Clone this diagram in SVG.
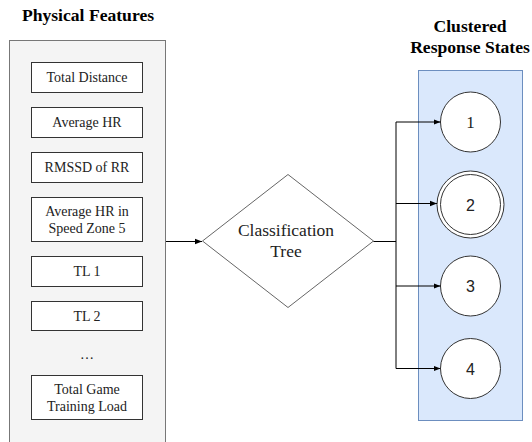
<svg xmlns="http://www.w3.org/2000/svg" width="532" height="442" viewBox="0 0 532 442">
<style>
.title{font-family:"Liberation Serif","Times New Roman",Tinos,"DejaVu Serif",serif;font-weight:bold;font-size:17.6px;fill:#000;text-anchor:middle}
.feat rect{fill:#fff;stroke:#333;stroke-width:1}
.lbl{font-family:"Liberation Serif","Times New Roman",Tinos,"DejaVu Serif",serif;font-size:14px;fill:#222;text-anchor:middle}
.ser{font-family:"Liberation Serif","Times New Roman",Tinos,"DejaVu Serif",serif;fill:#222;text-anchor:middle}
.st{fill:#fff;stroke:#333;stroke-width:1}
.num{font-family:"Liberation Sans",Arial,sans-serif;font-size:16px;fill:#222;text-anchor:middle}
.conn{fill:none;stroke:#000;stroke-width:1}
</style>
<defs>
<marker id="arr" viewBox="0 0 10 10" refX="10" refY="5" markerWidth="7" markerHeight="7" markerUnits="userSpaceOnUse" orient="auto">
<path d="M0,1 L10,5 L0,9 Z" fill="#000"/>
</marker>
</defs>
<rect width="532" height="442" fill="#fff"/>

<g id="features-panel">
<rect x="9.5" y="40.5" width="156" height="410" fill="#f4f4f4" stroke="#777"/>
<text class="title" x="88" y="21">Physical Features</text>
</g>

<g id="total-distance" class="feat"><rect x="31.5" y="62.5" width="111" height="30"/><text class="lbl" x="87" y="82">Total Distance</text></g>
<g id="average-hr" class="feat"><rect x="31.5" y="107.5" width="111" height="30"/><text class="lbl" x="87" y="127">Average HR</text></g>
<g id="rmssd" class="feat"><rect x="31.5" y="152.5" width="111" height="30"/><text class="lbl" x="87" y="172">RMSSD of RR</text></g>
<g id="avg-hr-zone5" class="feat"><rect x="31.5" y="197.5" width="111" height="44"/><text class="lbl" x="87" y="216">Average HR in</text><text class="lbl" x="87" y="233">Speed Zone 5</text></g>
<g id="tl1" class="feat"><rect x="31.5" y="256.5" width="111" height="30"/><text class="lbl" x="87" y="276">TL 1</text></g>
<g id="tl2" class="feat"><rect x="31.5" y="301.5" width="111" height="29"/><text class="lbl" x="87" y="321">TL 2</text></g>
<g id="ellipsis"><text class="lbl" x="87" y="359">…</text></g>
<g id="total-game-tl" class="feat"><rect x="31.5" y="375.5" width="111" height="44"/><text class="lbl" x="87" y="394">Total Game</text><text class="lbl" x="87" y="411">Training Load</text></g>

<g id="classification-tree">
<polygon points="288,174.5 373.5,241 288,307.5 202.5,241" fill="#fff" stroke="#666"/>
<text class="ser" x="286" y="236" font-size="17.5">Classification</text>
<text class="ser" x="286" y="257" font-size="17.5">Tree</text>
</g>

<g id="states-panel">
<rect x="418.5" y="70.5" width="104" height="350" fill="#dae8fc" stroke="#6c8ebf"/>
<text class="title" x="470" y="32">Clustered</text>
<text class="title" x="470" y="53">Response States</text>
</g>

<g id="state-1"><circle class="st" cx="470.5" cy="122" r="30"/><text class="ser" x="470.5" y="128" font-size="17">1</text></g>
<g id="state-2"><circle class="st" cx="470.5" cy="204.5" r="33.5"/><circle class="st" cx="470.5" cy="204.5" r="30"/><text class="num" x="470.5" y="210.5">2</text></g>
<g id="state-3"><circle class="st" cx="470.5" cy="286" r="30"/><text class="num" x="470.5" y="292">3</text></g>
<g id="state-4"><circle class="st" cx="470.5" cy="368.5" r="30"/><text class="num" x="470.5" y="374.5">4</text></g>

<g id="connectors">
<path class="conn" d="M166,241.5 H202" marker-end="url(#arr)"/>
<path class="conn" d="M373.5,241.5 H396 M396,122 V368.5"/>
<path class="conn" d="M396,122 H440.5" marker-end="url(#arr)"/>
<path class="conn" d="M396,203.5 H437" marker-end="url(#arr)"/>
<path class="conn" d="M396,286 H440.5" marker-end="url(#arr)"/>
<path class="conn" d="M396,368.5 H440.5" marker-end="url(#arr)"/>
</g>
</svg>
